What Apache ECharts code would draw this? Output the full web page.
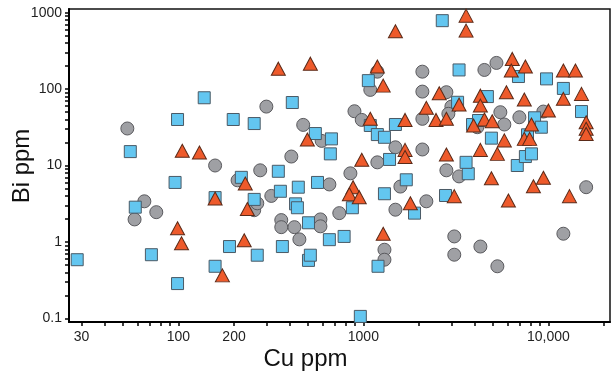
<!DOCTYPE html>
<html><head><meta charset="utf-8">
<script src="https://cdn.jsdelivr.net/npm/echarts@6/dist/echarts.min.js"></script>
<style>html,body{margin:0;padding:0;background:#fff}#c{width:611px;height:381px}</style>
</head><body><div id="c"></div>
<script>
// Cu ppm (x) and Bi ppm (y) for each group
const grayCu = [53,158,209,277,299,473,595,408,318,65.5,58,76,257,267,360,360,424,451,586,586,655,741,851,1190,1585,1490,2190,1300,1300,2810,3290,3100,3100,16000,12050,4290,5300,1190,1090,2084,4510,5240,2084,2810,2990,2880,2084,895,980,1490,2084,5500,5780,6970,4130,9390];
const grayBi = [30.5,10,6.4,8.65,59,34,21,13.1,4.0,3.4,1.97,2.45,2.6,3.2,1.93,1.56,1.56,1.08,1.97,1.6,5.65,2.38,7.9,11,5.3,2.64,3.4,0.79,0.585,8.65,7.2,1.18,0.68,5.2,1.28,0.87,0.48,169,97.6,169,178,220,92.7,91,59,47.5,40.8,51.3,39.5,17.3,16.2,49.8,34.4,42.8,31.7,50.8];

const blueCu = [55,138,99,96,198,257,413,550,219,347,356,445,565,58.5,28.4,71.5,99,158,158,189,267,257,365,430,440,505,505,517,655,787,872,1300,1706,1890,1200,963,2780,3690,3590,2670,1064,3290,6890,9770,12050,15100,3230,1090,1190,1300,1490,672,663,1385,4920,6790,7510,8100,4680,3890,4190,8420,9160,7710];
const blueBi = [15.2,77,40,6.0,40,35.4,66.7,26.2,7.0,8.4,4.6,5.2,6.0,2.85,0.585,0.68,0.285,3.8,0.48,0.87,0.67,3.6,0.87,3.15,2.8,1.78,0.573,0.67,1.07,1.18,2.8,4.27,6.5,2.38,0.48,0.106,4.05,7.8,11,786,129,178,146,136,102,50.8,67.2,33.4,25.4,23.4,34.4,22.3,14.2,12.0,22.8,10,13.1,14.2,79.8,34.4,38.8,42.1,31.7,25.2];

const orangeCu = [105,130,347,517,498,230,99,104,158,173,227,236,880,840,950,1795,1280,3100,6080,8300,9400,13000,3590,3590,1490,1190,1280,6380,6300,7510,12050,14000,12050,15100,16000,16000,16000,2570,2190,2470,2810,1090,1680,980,1680,1680,2810,4920,4290,5300,5780,4290,4290,5930,7410,3940,4510,4970,8100,10000,7410,7920,3290];
const orangeBi = [15.6,14.8,185,215,21.9,5.8,1.51,0.96,3.7,0.365,1.05,2.7,5.2,4.2,3.85,3.2,1.28,3.97,3.48,5.35,6.9,3.97,914,582,570,197,111,248,175,197,175,175,74.5,86.5,36.8,30.2,25.9,88,56.8,39.5,40.8,40.8,39.5,11.9,16.0,12.9,13.9,6.8,16,14.2,21.3,82,60.8,91,73,33.4,40,37.9,34.4,52.5,22.3,22.3,62.7];

const xLabelValues = [30,100,200,1000,10000];
const xMinorTicks = [30,40,50,60,70,80,90,100,200,300,400,500,600,700,800,900,1000,2000,3000,4000,5000,6000,7000,8000,9000,10000,20000];
const yLabelValues = [0.1,1,10,100,1000];
const yMinorTicks = [0.1,0.2,0.3,0.4,0.5,0.6,0.7,0.8,0.9,1,2,3,4,5,6,7,8,9,10,20,30,40,50,60,70,80,90,100,200,300,400,500,600,700,800,900,1000];

const L = Math.log10;
function pts(xs, ys){ return xs.map((x,i)=>[L(x), L(ys[i])]); }
function fmt(v){
  const n = Math.pow(10, v);
  if (n < 1) return String(Math.round(n*10)/10);
  const r = Math.round(n);
  return r >= 10000 ? r.toLocaleString('en-US') : String(r);
}

const chart = echarts.init(document.getElementById('c'), null, {renderer:'canvas'});
const FONT = '"Liberation Sans", Arial, sans-serif';
chart.setOption({
  animation:false,
  backgroundColor:'#fff',
  grid:{left:69, right:1, top:9, bottom:59, show:true, borderColor:'#111', borderWidth:1.5, backgroundColor:'transparent'},
  xAxis:{
    type:'value', min:1.409, max:4.333,
    axisLine:{show:true, onZero:false, lineStyle:{color:'#000', width:2}},
    splitLine:{show:false},
    axisTick:{show:true, inside:false, length:4, lineStyle:{color:'#000', width:1.5}, customValues:xMinorTicks.map(L)},
    axisLabel:{customValues:xLabelValues.map(L), formatter:fmt, color:'#222', fontSize:14, fontFamily:FONT, margin:8}
  },
  yAxis:{
    type:'value', min:-1.048, max:3.048,
    axisLine:{show:true, onZero:false, lineStyle:{color:'#000', width:2}},
    splitLine:{show:false},
    axisTick:{show:true, inside:false, length:4, lineStyle:{color:'#000', width:1.5}, customValues:yMinorTicks.map(L)},
    axisLabel:{customValues:yLabelValues.map(L), formatter:fmt, color:'#222', fontSize:14, fontFamily:FONT, margin:7}
  },
  graphic:[
    {type:'text', left:'center', x:0, style:{text:'Cu ppm', font:'24px '+FONT, fill:'#111', x:330, y:359, textAlign:'center', textVerticalAlign:'middle'}, position:[0,0]},
    {type:'text', rotation:Math.PI/2, x:22, y:166, style:{text:'Bi ppm', font:'24px '+FONT, fill:'#111', textAlign:'center', textVerticalAlign:'middle'}}
  ],
  series:[
    {type:'scatter', name:'gray', data:pts(grayCu, grayBi), symbol:'circle', symbolSize:13,
     itemStyle:{color:'#9fa0a4', borderColor:'#5a5a5e', borderWidth:1, opacity:1}},
    {type:'scatter', name:'blue', data:pts(blueCu, blueBi), symbol:'rect', symbolSize:12,
     itemStyle:{color:'#63c6f0', borderColor:'#4a5a66', borderWidth:1, opacity:1}},
    {type:'scatter', name:'orange', data:pts(orangeCu, orangeBi), symbol:'triangle', symbolSize:[14,13],
     itemStyle:{color:'#ee5a2b', borderColor:'#5a2a18', borderWidth:1, opacity:1}}
  ]
});
</script></body></html>
